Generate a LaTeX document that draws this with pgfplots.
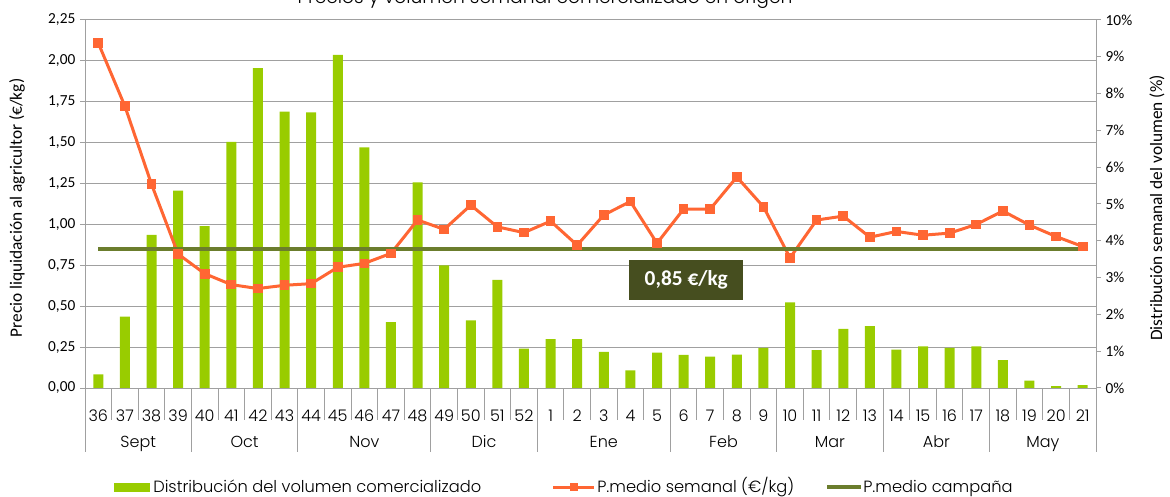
\documentclass[border=0pt]{standalone}
\usepackage{fontspec}
\setmainfont{Carlito}
\newfontfamily\cg{Poppins Light}
\usepackage{pgfplots}
\pgfplotsset{compat=1.18}
\usepackage{pgfplotstable}
\definecolor{barg}{HTML}{99CC00}
\definecolor{ora}{HTML}{FF6633}
\definecolor{oli}{HTML}{6B7D2D}
\definecolor{boxc}{HTML}{464E1F}
\definecolor{gr}{HTML}{A0A0A0}

\pgfplotstableread{
x vol price
0 0.37 2.109
1 1.94 1.723
2 4.16 1.246
3 5.36 0.819
4 4.40 0.699
5 6.69 0.632
6 8.69 0.608
7 7.51 0.628
8 7.49 0.638
9 9.05 0.738
10 6.54 0.762
11 1.79 0.823
12 5.59 1.027
13 3.33 0.970
14 1.84 1.118
15 2.94 0.985
16 1.07 0.950
17 1.33 1.020
18 1.33 0.873
19 0.98 1.058
20 0.48 1.140
21 0.96 0.885
22 0.90 1.094
23 0.85 1.094
24 0.91 1.290
25 1.09 1.108
26 2.33 0.796
27 1.03 1.027
28 1.61 1.051
29 1.68 0.922
30 1.04 0.957
31 1.13 0.934
32 1.09 0.947
33 1.13 1.000
34 0.76 1.082
35 0.20 0.996
36 0.05 0.926
37 0.08 0.865
}\data

\begin{document}
\begin{tikzpicture}[x=0.75pt,y=0.75pt]
\pgfplotsset{base/.style={at={(63.75pt,81pt)}, anchor=south west, scale only axis,
  width=758.25pt, height=276pt, xmin=-0.5, xmax=37.5, clip=false}}
% axis 1: grid, left axis, category labels
\begin{axis}[base, ymin=0, ymax=2.25,
  ytick={0,0.25,0.5,0.75,1,1.25,1.5,1.75,2,2.25},
  yticklabels={{0,00},{0,25},{0,50},{0,75},{1,00},{1,25},{1,50},{1,75},{2,00},{2,25}},
  ymajorgrids, grid style={gr, line width=0.75pt},
  axis y line*=left, axis x line*=bottom,
  axis line style={gr, line width=0.75pt, -},
  ytick style={gr, line width=0.75pt}, tick align=outside, major tick length=3.75pt,
  yticklabel style={font=\fontsize{11.5}{13}\selectfont, text=black},
  xtick={0,...,37},
  xticklabels={36,37,38,39,40,41,42,43,44,45,46,47,48,49,50,51,52,1,2,3,4,5,6,7,8,9,10,11,12,13,14,15,16,17,18,19,20,21},
  xtick style={draw=none},
  xticklabel style={font=\cg\fontsize{12}{14}\selectfont, anchor=base, yshift=-21pt, text=black}]
\addplot[draw=none, forget plot] coordinates {(0,0)};
\pgfplotsinvokeforeach{0.5,1.5,...,36.5}{\draw[gr, line width=0.75pt] (axis cs:#1,0) -- ++(0pt,-24pt);}
\pgfplotsinvokeforeach{-0.5,3.5,7.5,12.5,16.5,21.5,25.5,29.5,33.5,37.5}{\draw[gr, line width=0.75pt] (axis cs:#1,0) -- ++(0pt,-48pt);}
\node[font=\cg\fontsize{12}{14}\selectfont, anchor=base] at (axis cs:1.5,0) [yshift=-44.25pt] {Sept};
\node[font=\cg\fontsize{12}{14}\selectfont, anchor=base] at (axis cs:5.5,0) [yshift=-44.25pt] {Oct};
\node[font=\cg\fontsize{12}{14}\selectfont, anchor=base] at (axis cs:10,0) [yshift=-44.25pt] {Nov};
\node[font=\cg\fontsize{12}{14}\selectfont, anchor=base] at (axis cs:14.5,0) [yshift=-44.25pt] {Dic};
\node[font=\cg\fontsize{12}{14}\selectfont, anchor=base] at (axis cs:19,0) [yshift=-44.25pt] {Ene};
\node[font=\cg\fontsize{12}{14}\selectfont, anchor=base] at (axis cs:23.5,0) [yshift=-44.25pt] {Feb};
\node[font=\cg\fontsize{12}{14}\selectfont, anchor=base] at (axis cs:27.5,0) [yshift=-44.25pt] {Mar};
\node[font=\cg\fontsize{12}{14}\selectfont, anchor=base] at (axis cs:31.5,0) [yshift=-44.25pt] {Abr};
\node[font=\cg\fontsize{12}{14}\selectfont, anchor=base] at (axis cs:35.5,0) [yshift=-44.25pt] {May};
\end{axis}
% axis 2: bars, right axis
\begin{axis}[base, ymin=0, ymax=10,
  ytick={0,1,2,3,4,5,6,7,8,9,10},
  yticklabels={0\%,1\%,2\%,3\%,4\%,5\%,6\%,7\%,8\%,9\%,10\%},
  axis y line*=right, axis x line=none,
  axis line style={gr, line width=0.75pt, -},
  ytick style={gr, line width=0.75pt}, tick align=outside, major tick length=3.75pt,
  yticklabel style={font=\fontsize{11.5}{13}\selectfont, text=black}]
\addplot[ybar, bar width=7.5pt, fill=barg, draw=none] table[x=x,y=vol]{\data};
\end{axis}
% axis 3: price lines
\begin{axis}[base, ymin=0, ymax=2.25, hide axis]
\addplot[ora, line width=2.25pt, mark=square*, mark size=2.5pt, mark options={solid}] table[x=x,y=price]{\data};
\addplot[oli, line width=2.6pt] coordinates {(0,0.85) (37,0.85)};
\node[fill=boxc, text=white, font=\bfseries\fontsize{16}{18}\selectfont, minimum width=85.5pt, minimum height=30pt, inner sep=0pt] at (axis cs:22.1,0.66) {0,85 €/kg};
\end{axis}
% axis titles
\node[rotate=90, font=\fontsize{13}{15}\selectfont] at (17,288) {Precio liquidación al agricultor (€/kg)};
\node[rotate=90, font=\fontsize{13}{15}\selectfont] at (1157,288) {Distribución semanal del volumen (\%)};
% title
\node[anchor=base, font=\cg\fontsize{14}{16}\selectfont] at (545,492) {Precios y volumen semanal comercializado en origen};
% legend
\fill[barg] (114,4) rectangle (150,13);
\node[anchor=base west, inner sep=0pt, font=\cg\fontsize{12.2}{14}\selectfont] at (153,4) {Distribución del volumen comercializado};
\draw[ora, line width=2.25pt] (553,9) -- (594,9);
\fill[ora] (569.5,5) rectangle (577.5,13);
\node[anchor=base west, inner sep=0pt, font=\cg\fontsize{12.2}{14}\selectfont] at (597,4) {P.medio semanal (€/kg)};
\draw[oli, line width=2.6pt] (827,9) -- (861,9);
\node[anchor=base west, inner sep=0pt, font=\cg\fontsize{12.2}{14}\selectfont] at (863,4) {P.medio campaña};
\pgfresetboundingbox
\useasboundingbox (0,0) rectangle (1170,496);
\end{tikzpicture}
\end{document}
